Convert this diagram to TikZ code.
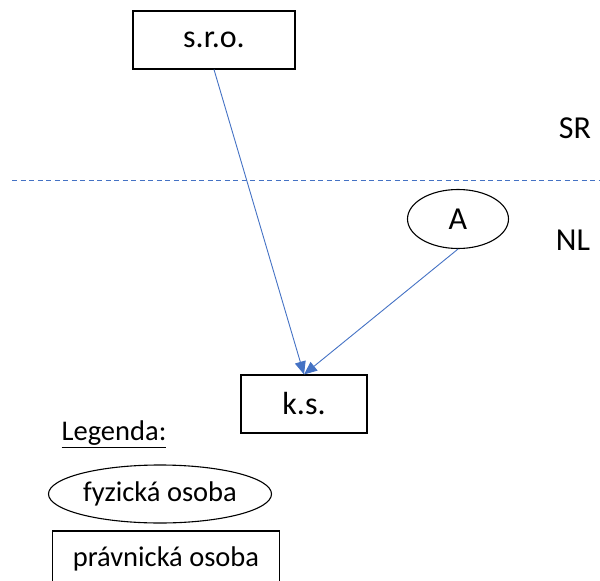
\documentclass[tikz,border=0pt]{standalone}
\usepackage{fontspec}
\setmainfont{Carlito}
\usetikzlibrary{shapes.geometric,arrows.meta}
\begin{document}
\begin{tikzpicture}[x=1pt,y=-1pt,
  entity/.style={draw=black,line width=1.1pt,fill=white,inner sep=0pt,font=\fontsize{32}{32}\selectfont},
  person/.style={entity,ellipse},
  link/.style={draw={rgb,255:red,68;green,114;blue,196},line width=0.9pt,
    -{Triangle[length=13pt,width=11pt]}},
  region/.style={font=\fontsize{32}{32}\selectfont},
  legendtxt/.style={font=\fontsize{28.5}{28.5}\selectfont}]
\useasboundingbox (0,0) rectangle (600,581);
\clip (0,0) rectangle (600,581);

% border between the two jurisdictions
\draw[draw={rgb,255:red,68;green,114;blue,196},line width=0.9pt,dash pattern=on 5pt off 3.5pt]
  (12,180) -- (600,180);
\node[region] (sr) at (575,128) {SR};
\node[region] (nl) at (573,240) {NL};

% entities
\node[entity,minimum width=162pt,minimum height=58pt] (sro) at (214,40) {s.r.o.};
\node[person,minimum width=101pt,minimum height=59pt] (a) at (458,219) {A};
\node[entity,minimum width=126pt,minimum height=58pt] (ks) at (304,404) {k.s.};

% ownership links
\draw[link] (sro.south) -- (ks.north);
\draw[link] (a.south) -- (ks.north);

% legend
\node[legendtxt] (leg) at (114,434) {\underline{Legenda:}};
\node[person,legendtxt,minimum width=223pt,minimum height=58pt] (lfo) at (160,494) {fyzická osoba};
\node[entity,legendtxt,minimum width=227pt,minimum height=56pt] (lpo) at (166,559) {právnická osoba};
\end{tikzpicture}
\end{document}
